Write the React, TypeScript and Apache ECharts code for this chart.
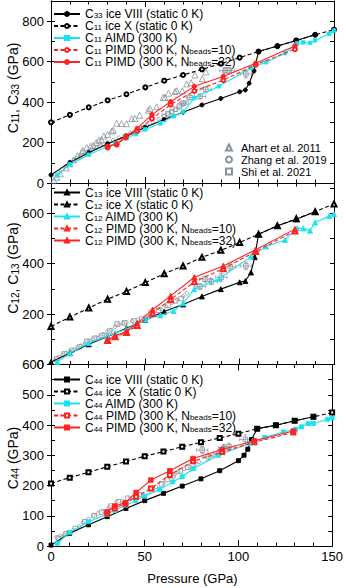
import React, { useEffect, useRef } from 'react';
import * as echarts from 'echarts';

// ---------- Panel 1 : C11 / C33 ----------
const p1ViiiP = [0, 10, 20, 30, 40, 50, 60, 70, 80, 90, 100, 103, 105, 107.6, 110, 120, 130, 140];
const p1ViiiV = [40, 102, 150, 194, 233, 276, 314, 350, 386, 418, 451, 460, 493, 554, 650, 677, 705, 733];
const p1XP = [0, 10, 20, 30, 40, 50, 60, 70, 80, 90, 100, 110, 120, 130, 140, 150];
const p1XV = [300, 337, 374, 409, 439, 473, 506, 534, 562, 590, 620, 650, 677, 705, 733, 758];
const aimdP = [3.4, 10, 20, 30, 34, 40, 45, 50, 58, 65, 70, 76, 89, 106, 114, 124, 130.5, 133.7, 137.3, 140, 147.5, 150];
const p1AimdV = [38, 92, 140, 180, 195, 222, 242, 265, 295, 330, 352, 420, 478, 570, 597, 642, 690, 695, 693, 705, 738, 754];
const pimdP = [30, 34.8, 39.6, 45.7, 53.5, 63.4, 76, 91.3, 108.5, 129.3];
const p1Pimd32V = [181, 193, 230, 270, 338, 402, 478, 527, 592, 678];
const p1Pimd10V = [176, 190, 225, 258, 318, 388, 455, 508, 585, 662];
const p1AhartP = [1.5, 3, 5, 8, 10, 12, 14, 16.3, 17, 19, 21, 22.4, 24, 25.4, 26.8, 28, 30, 32.2, 33, 34.8, 37.4, 40.1, 42.8, 44.5, 47, 51.6, 52.5, 56, 59.5, 60.4, 62.2, 65.7, 66.6, 69.6, 71.9, 74.2, 76.3, 80.2, 82.1];
const p1AhartV = [14, 28, 45, 75, 95, 115, 135, 153, 161, 175, 182, 186, 200, 211, 214, 232, 240, 257, 261, 296, 294, 293, 318, 319, 335, 360, 368, 377, 423, 423, 444, 452, 456, 456, 490, 496, 534, 516, 549];
const p1ZhangP = [2, 4, 6, 8, 10, 12, 14, 16, 18, 20, 22, 24, 26, 28, 30, 33, 36, 39, 42, 45, 48, 51, 54, 57, 60, 62, 64, 66, 68, 70, 72];
const p1ZhangV = [42, 55, 70, 84, 100, 112, 124, 134, 146, 157, 166, 175, 183, 191, 200, 212, 224, 236, 247, 258, 272, 286, 300, 315, 330, 342, 352, 362, 372, 385, 398];
const p1ShiP = [60, 62, 64, 66, 68, 70, 73.6, 79, 82, 92.2, 94.5, 103.3];
const p1ShiV = [330, 342, 352, 365, 380, 395, 423, 428, 463, 556, 556, 539];
const p1ShiXErr = [0, 0, 0, 0, 0, 2, 2, 3, 3, 3, 3, 3];
const p1ShiYErr = [0, 0, 0, 0, 0, 10, 12, 12, 15, 15, 15, 20];

// ---------- Panel 2 : C12 / C13 ----------
const p2ViiiP = [0, 10, 20, 30, 40, 50, 60, 70, 80, 90, 100, 103, 106, 108, 110, 120, 130, 140];
const p2ViiiV = [10, 45, 80, 111, 144, 177, 210, 238, 270, 299, 326, 331, 365, 426, 517, 550, 576, 606];
const p2XP = [0, 10, 20, 30, 40, 50, 60, 70, 80, 90, 100, 110, 120, 130, 140, 150];
const p2XV = [151, 188, 224, 259, 290, 325, 360, 391, 425, 453, 484, 517, 550, 578, 606, 637];
const p2AimdV = [10, 45, 85, 112, 125, 140, 160, 178, 195, 212, 243, 299, 339, 428, 468, 494, 540, 540, 531, 563, 589, 597];
const p2PimdP = [30, 34, 40, 45.7, 53.8, 63.4, 76, 91.3, 108.5, 129.3];
const p2Pimd32V = [98, 115, 131, 164, 217, 272, 346, 391, 455, 537];
const p2Pimd10V = [95, 110, 127, 155, 203, 258, 328, 380, 448, 530];
const p2ZhangP = [2, 4, 6, 8, 10, 12, 14, 16, 18, 20, 22, 24, 26, 28, 30, 32, 34, 36, 38, 40, 43, 46, 50, 54, 58, 61, 64, 67, 70, 72];
const p2ZhangV = [18, 30, 39, 46, 52, 58, 66, 75, 85, 95, 100, 107, 111, 120, 128, 137, 150, 158, 163, 167, 172, 177, 190, 206, 220, 230, 245, 257, 270, 283];
const p2ShiP = [3, 7, 11, 15, 19, 23, 27, 31, 35, 39, 44, 48, 53, 57, 62, 66, 69, 79, 81.6, 85, 90.3, 94.9, 103.3];
const p2ShiV = [22, 42, 56, 70, 92, 104, 115, 133, 161, 165, 173, 180, 204, 215, 235, 252, 262, 309, 339, 329, 346, 388, 391];
const p2ShiXErr = [0, 0, 0, 0, 0, 0, 0, 0, 0, 0, 0, 0, 0, 0, 0, 0, 0, 3, 3, 3, 3, 3, 3];
const p2ShiYErr = [0, 0, 0, 0, 0, 0, 0, 0, 0, 0, 0, 0, 0, 0, 0, 0, 0, 12, 12, 12, 15, 15, 15];

// ---------- Panel 3 : C44 ----------
const p3ViiiP = [0, 10, 20, 30, 40, 50, 60, 70, 80, 90, 100, 103, 105, 107, 110, 120, 130, 140];
const p3ViiiV = [3, 42, 70, 97, 124, 150, 174, 198, 222, 249, 282, 300, 320, 352, 388, 399, 414, 427];
const p3XP = [0, 10, 20, 30, 40, 50, 60, 70, 80, 90, 100, 110, 120, 130, 140, 150];
const p3XV = [207, 226, 244, 262, 279, 297, 312, 328, 343, 357, 371, 388, 399, 414, 427, 441];
const p3AimdV = [9, 45, 80, 105, 118, 135, 150, 165, 187, 212, 229, 256, 300, 339, 359, 377, 386, 394, 405, 405, 419, 423];
const p3PimdP = [30, 34, 39.7, 45.4, 53.3, 63.4, 75.8, 91.3, 108.5, 129.3];
const p3Pimd32V = [113, 132, 143, 177, 218, 249, 289, 319, 348, 380];
const p3Pimd10V = [108, 125, 140, 163, 190, 235, 280, 311, 343, 375];
const p3ZhangP = [3, 5, 7, 9, 12, 15, 17, 20, 22.5, 25, 28, 31, 35, 38, 42, 45, 49, 52, 56, 60, 63, 66, 68, 71, 74, 77, 79];
const p3ZhangV = [29, 33, 36, 45, 53, 65, 77, 90, 102, 108, 116, 128, 145, 150, 157, 162, 168, 180, 195, 207, 229, 238, 245, 255, 262, 272, 278];
const p3ShiP = [4, 8, 13, 18, 23, 27, 32, 36, 41, 47, 54, 59, 62, 65, 69, 73, 80.7, 84, 89.6, 92.2, 95, 103.7];
const p3ShiV = [25, 40, 58, 80, 100, 112, 132, 146, 158, 170, 190, 205, 220, 232, 248, 260, 317, 295, 306, 324, 328, 352];
const p3ShiXErr = [0, 0, 0, 0, 0, 0, 0, 0, 0, 0, 0, 0, 0, 0, 0, 0, 3, 3, 3, 3, 3, 3];
const p3ShiYErr = [0, 0, 0, 0, 0, 0, 0, 0, 0, 0, 0, 0, 0, 0, 0, 0, 12, 12, 12, 12, 12, 15];

// ---------- axes ----------
const xTicks = [0, 50, 100, 150];
const yTicks1 = [0, 200, 400, 600, 800];
const yTicks2 = [0, 200, 400, 600];
const yTicks3 = [0, 100, 200, 300, 400, 500, 600];

const names1 = ['C33 ice VIII (static 0 K)', 'C11 ice X (static 0 K)', 'C11 AIMD (300 K)', 'C11 PIMD (300 K, Nbeads=10)', 'C11 PIMD (300 K, Nbeads=32)'];
const names2 = ['C13 ice VIII (static 0 K)', 'C12 ice X (static 0 K)', 'C12 AIMD (300 K)', 'C12 PIMD (300 K, Nbeads=10)', 'C12 PIMD (300 K, Nbeads=32)'];
const names3 = ['C44 ice VIII (static 0 K)', 'C44 ice  X (static 0 K)', 'C44 AIMD (300 K)', 'C44 PIMD (300 K, Nbeads=10)', 'C44 PIMD (300 K, Nbeads=32)'];
const expNames = ['Ahart et al. 2011', 'Zhang et al. 2019', 'Shi et al. 2021'];

const FONT = '"Liberation Sans", Arial, Helvetica, sans-serif';
const BLACK = '#000000';
const CYAN = '#19e3f0';
const RED = '#ff2222';
const GRAY = '#87919a';

const GRID_LEFT = 51;
const GRID_W = 283;
const GRID_TOP = [1, 183, 364.5];
const GRID_H = [182, 181.5, 181.5];
const Y_MAX = [900, 720, 600];
const Y_MAJOR = [yTicks1, yTicks2, yTicks3];
const Y_MINOR_INT = [100, 100, 50];

const zip = (P: number[], V: number[]) => P.map((p, i) => [p, V[i]]);
const zip4 = (P: number[], V: number[], A: number[], B: number[]) => P.map((p, i) => [p, V[i], A[i], B[i]]);

function richName(n: string): string {
  const m = n.match(/^C(\d\d)(.*)$/);
  if (!m) return `{e|${n}}`;
  const rest = m[2].replace('Nbeads', 'N}{s|beads}{t|');
  return `{t|C}{s|${m[1]}}{t|${rest}}`;
}

function lineSeries(name: string, g: number, P: number[], V: number[], color: string, symbol: string, size: number, dashed: boolean, z: number) {
  return {
    type: 'line',
    name,
    xAxisIndex: 2 * g,
    yAxisIndex: 3 * g,
    data: zip(P, V),
    symbol,
    symbolSize: size,
    showSymbol: true,
    z,
    lineStyle: { color, width: 1.1, type: dashed ? [4, 2.5] : 'solid' },
    itemStyle: { color, borderColor: color, borderWidth: 0.9 },
    emphasis: { disabled: true },
  };
}

function scatterSeries(name: string, g: number, P: number[], V: number[], symbol: string, size: number) {
  return {
    type: 'scatter',
    name,
    xAxisIndex: 2 * g,
    yAxisIndex: 3 * g,
    data: zip(P, V),
    symbol,
    symbolSize: size,
    z: 1,
    itemStyle: { color: 'rgba(255,255,255,0)', borderColor: GRAY, borderWidth: 0.8, opacity: 1 },
    emphasis: { disabled: true },
  };
}

function errorSeries(g: number, P: number[], V: number[], XE: number[], YE: number[]) {
  return {
    type: 'custom',
    name: 'err' + g,
    xAxisIndex: 2 * g,
    yAxisIndex: 3 * g,
    z: 1,
    data: zip4(P, V, XE, YE).filter((d) => d[2] > 0 || d[3] > 0),
    renderItem: (_params: any, api: any) => {
      const x = api.value(0), y = api.value(1), dx = api.value(2), dy = api.value(3);
      const l = api.coord([x - dx, y]);
      const r = api.coord([x + dx, y]);
      const t = api.coord([x, y + dy]);
      const b = api.coord([x, y - dy]);
      const st = { stroke: GRAY, lineWidth: 0.7 };
      return {
        type: 'group',
        children: [
          { type: 'line', shape: { x1: l[0], y1: l[1], x2: r[0], y2: r[1] }, style: st },
          { type: 'line', shape: { x1: l[0], y1: l[1] - 2, x2: l[0], y2: l[1] + 2 }, style: st },
          { type: 'line', shape: { x1: r[0], y1: r[1] - 2, x2: r[0], y2: r[1] + 2 }, style: st },
          { type: 'line', shape: { x1: t[0], y1: t[1], x2: b[0], y2: b[1] }, style: st },
          { type: 'line', shape: { x1: t[0] - 2, y1: t[1], x2: t[0] + 2, y2: t[1] }, style: st },
          { type: 'line', shape: { x1: b[0] - 2, y1: b[1], x2: b[0] + 2, y2: b[1] }, style: st },
        ],
      };
    },
  };
}

const legendRich = {
  t: { fontSize: 12, lineHeight: 11, fontFamily: FONT, color: BLACK },
  s: { fontSize: 8, lineHeight: 3, verticalAlign: 'bottom', fontFamily: FONT, color: BLACK },
  e: { fontSize: 11, lineHeight: 12, fontFamily: FONT, color: BLACK, padding: [0, 0, 0, 4] },
};

function legend(data: string[], left: number, top: number, iw: number, ih: number, gap: number) {
  return {
    data,
    left,
    top,
    orient: 'vertical',
    padding: 0,
    itemWidth: iw,
    itemHeight: ih,
    itemGap: gap,
    symbolKeepAspect: true,
    selectedMode: false,
    formatter: (n: string) => richName(n),
    textStyle: { fontFamily: FONT, fontSize: 12, color: BLACK, lineHeight: 11, rich: legendRich },
  };
}

const titleRich = {
  t: { fontSize: 14, lineHeight: 14, fontFamily: FONT, color: BLACK },
  s: { fontSize: 10, lineHeight: 5, verticalAlign: 'bottom', fontFamily: FONT, color: BLACK },
};

export default function App() {
  const ref = useRef<HTMLDivElement>(null);
  useEffect(() => {
    if (!ref.current) return;
    const chart = echarts.init(ref.current, undefined, { renderer: 'svg' });

    const grids = [0, 1, 2].map((g) => ({ left: GRID_LEFT, top: GRID_TOP[g], width: GRID_W, height: GRID_H[g] }));
    const axisLine = { show: true, onZero: false, lineStyle: { color: BLACK, width: 1 } };
    const xAxes: any[] = [];
    const yAxes: any[] = [];
    [0, 1, 2].forEach((g) => {
      ['bottom', 'top'].forEach((pos) => {
        xAxes.push({
          gridIndex: g,
          type: 'value',
          position: pos,
          min: 0,
          max: 150,
          interval: 50,
          axisLine,
          axisTick: { show: true, inside: true, length: 6, lineStyle: { color: BLACK } },
          minorTick: { show: true, splitNumber: 5, length: 3.5, lineStyle: { color: BLACK } },
          axisLabel: { show: g === 2 && pos === 'bottom', customValues: xTicks, fontSize: 13, color: BLACK, margin: 4, fontFamily: FONT },
          splitLine: { show: false },
        });
      });
      yAxes.push({
        gridIndex: g,
        type: 'value',
        position: 'left',
        min: 0,
        max: Y_MAX[g],
        axisLine,
        axisTick: { show: true, inside: false, length: 4, customValues: Y_MAJOR[g], lineStyle: { color: BLACK } },
        axisLabel: { show: true, customValues: Y_MAJOR[g], fontSize: 13, color: BLACK, margin: 7, fontFamily: FONT },
        splitLine: { show: false },
      });
      ['left', 'right'].forEach((pos) => {
        yAxes.push({
          gridIndex: g,
          type: 'value',
          position: pos,
          min: 0,
          max: Y_MAX[g],
          interval: Y_MINOR_INT[g],
          axisLine,
          axisTick: { show: true, inside: true, length: 4, lineStyle: { color: BLACK } },
          axisLabel: { show: false },
          splitLine: { show: false },
        });
      });
    });

    const series: any[] = [
      scatterSeries(expNames[0], 0, p1AhartP, p1AhartV, 'triangle', 6),
      scatterSeries(expNames[1], 0, p1ZhangP, p1ZhangV, 'circle', 3.5),
      scatterSeries(expNames[2], 0, p1ShiP, p1ShiV, 'rect', 4.5),
      errorSeries(0, p1ShiP, p1ShiV, p1ShiXErr, p1ShiYErr),
      scatterSeries(expNames[1], 1, p2ZhangP, p2ZhangV, 'circle', 3.5),
      scatterSeries(expNames[2], 1, p2ShiP, p2ShiV, 'rect', 4.5),
      errorSeries(1, p2ShiP, p2ShiV, p2ShiXErr, p2ShiYErr),
      scatterSeries(expNames[1], 2, p3ZhangP, p3ZhangV, 'circle', 3.5),
      scatterSeries(expNames[2], 2, p3ShiP, p3ShiV, 'rect', 4.5),
      errorSeries(2, p3ShiP, p3ShiV, p3ShiXErr, p3ShiYErr),

      lineSeries(names1[1], 0, p1XP, p1XV, BLACK, 'emptyCircle', 4, true, 2),
      lineSeries(names1[0], 0, p1ViiiP, p1ViiiV, BLACK, 'circle', 4, false, 3),
      lineSeries(names1[2], 0, aimdP, p1AimdV, CYAN, 'rect', 3.5, false, 4),
      lineSeries(names1[3], 0, pimdP, p1Pimd10V, RED, 'emptyCircle', 4, true, 5),
      lineSeries(names1[4], 0, pimdP, p1Pimd32V, RED, 'circle', 4.5, false, 6),

      lineSeries(names2[1], 1, p2XP, p2XV, BLACK, 'emptyTriangle', 5, true, 2),
      lineSeries(names2[0], 1, p2ViiiP, p2ViiiV, BLACK, 'triangle', 5, false, 3),
      lineSeries(names2[2], 1, aimdP, p2AimdV, CYAN, 'triangle', 5, false, 4),
      lineSeries(names2[3], 1, p2PimdP, p2Pimd10V, RED, 'emptyTriangle', 5, true, 5),
      lineSeries(names2[4], 1, p2PimdP, p2Pimd32V, RED, 'triangle', 5.5, false, 6),

      lineSeries(names3[1], 2, p3XP, p3XV, BLACK, 'emptyRect', 4, true, 2),
      lineSeries(names3[0], 2, p3ViiiP, p3ViiiV, BLACK, 'rect', 4, false, 3),
      lineSeries(names3[2], 2, aimdP, p3AimdV, CYAN, 'rect', 4, false, 4),
      lineSeries(names3[3], 2, p3PimdP, p3Pimd10V, RED, 'emptyRect', 4, true, 5),
      lineSeries(names3[4], 2, p3PimdP, p3Pimd32V, RED, 'rect', 4.5, false, 6),
    ];

    const yTitle = (text: string, y: number) => ({
      type: 'text',
      x: 13,
      y,
      rotation: Math.PI / 2,
      style: { text, rich: titleRich, align: 'center', verticalAlign: 'middle', font: `14px ${FONT}` },
    });

    chart.setOption({
      animation: false,
      backgroundColor: '#ffffff',
      textStyle: { fontFamily: FONT },
      grid: grids,
      xAxis: xAxes,
      yAxis: yAxes,
      legend: [
        legend(names1, 53, 8, 26, 5, 0),
        legend(names2, 53, 186.5, 26, 5, 0),
        legend(names3, 53, 373.5, 26, 5, 0),
        legend(expNames, 225, 141.5, 6, 6, 0),
      ],
      series,
      graphic: [
        yTitle('{t|C}{s|11}{t|, C}{s|33}{t| (GPa)}', 88),
        yTitle('{t|C}{s|12}{t|, C}{s|13}{t| (GPa)}', 268),
        yTitle('{t|C}{s|44}{t| (GPa)}', 458),
        {
          type: 'text',
          x: 192.5,
          y: 578,
          style: { text: 'Pressure (GPa)', align: 'center', verticalAlign: 'middle', font: `13px ${FONT}`, fill: BLACK },
        },
      ],
    });
    return () => chart.dispose();
  }, []);
  return <div ref={ref} style={{ position: 'fixed', left: 0, top: 0, width: 346, height: 588 }} />;
}
